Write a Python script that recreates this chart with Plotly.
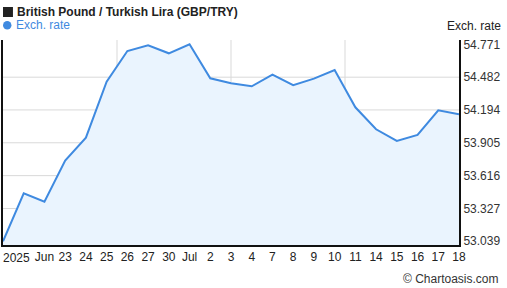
import plotly.graph_objects as go

# ---- data ----
dates = ["2025-06-18", "2025-06-19", "2025-06-20", "2025-06-23", "2025-06-24", "2025-06-25",
         "2025-06-26", "2025-06-27", "2025-06-30", "2025-07-01", "2025-07-02", "2025-07-03",
         "2025-07-04", "2025-07-07", "2025-07-08", "2025-07-09", "2025-07-10", "2025-07-11",
         "2025-07-14", "2025-07-15", "2025-07-16", "2025-07-17", "2025-07-18"]
rates = [53.039, 53.461, 53.387, 53.748, 53.950, 54.442, 54.712, 54.762, 54.692, 54.771,
         54.472, 54.428, 54.402, 54.504, 54.411, 54.469, 54.545, 54.217, 54.024, 53.921,
         53.974, 54.191, 54.156]
x_labels = ["2025", "", "Jun", "23", "24", "25", "26", "27", "30", "Jul", "2", "3", "4",
            "7", "8", "9", "10", "11", "14", "15", "16", "17", "18"]
y_ticks = [53.039, 53.327, 53.616, 53.905, 54.194, 54.482, 54.771]

title_text = "British Pound / Turkish Lira (GBP/TRY)"
series_name = "Exch. rate"

W, H = 507, 288
L, R, T, B = 1, 48, 40, 43
PW, PH = W - L - R, H - T - B

LINE = "#3f8ae0"
FILL = "#eaf4fe"
FONT = "Arial, Liberation Sans, sans-serif"


def px_x(px):
    return (px - L) / PW


def px_y(py):
    return (H - B - py) / PH


fig = go.Figure()
fig.add_trace(go.Scatter(
    x=list(range(len(dates))), y=rates, mode="lines",
    line=dict(color=LINE, width=2), fill="tozeroy", fillcolor=FILL,
    customdata=dates, hovertemplate="%{customdata}: %{y:.3f}<extra></extra>",
    showlegend=False,
))

shapes = []
# horizontal gridlines (inner ticks)
for v in y_ticks[1:-1]:
    shapes.append(dict(type="line", xref="paper", yref="y", x0=0, x1=1, y0=v, y1=v,
                       line=dict(color="#d9d9d9", width=1), layer="below"))
# vertical gridlines (quarters)
for f in (0.25, 0.5, 0.75):
    shapes.append(dict(type="line", xref="paper", yref="paper", x0=f, x1=f, y0=0, y1=1,
                       line=dict(color="#d9d9d9", width=1), layer="below"))
# title square
shapes.append(dict(type="rect", xref="paper", yref="paper",
                   x0=px_x(1), x1=px_x(11), y0=px_y(17), y1=px_y(7),
                   fillcolor="#222222", line=dict(width=0)))
# legend dot
shapes.append(dict(type="circle", xref="paper", yref="paper",
                   x0=px_x(1), x1=px_x(9.5), y0=px_y(29.5), y1=px_y(21),
                   fillcolor=LINE, line=dict(width=0)))

annotations = [
    dict(text="<b>" + title_text + "</b>", xref="paper", yref="paper",
         x=px_x(13), y=px_y(12), xanchor="left", yanchor="middle", showarrow=False,
         font=dict(size=12, color="#222222", family=FONT)),
    dict(text=series_name, xref="paper", yref="paper",
         x=px_x(12.5), y=px_y(25.5), xanchor="left", yanchor="middle", showarrow=False,
         font=dict(size=12, color=LINE, family=FONT)),
    dict(text=series_name, xref="paper", yref="paper",
         x=px_x(503), y=px_y(26), xanchor="right", yanchor="middle", showarrow=False,
         font=dict(size=12, color="#222222", family=FONT)),
    dict(text=x_labels[0], xref="paper", yref="paper",
         x=px_x(-1), y=px_y(257.5), xanchor="left", yanchor="middle", showarrow=False,
         font=dict(size=12, color="#222222", family=FONT)),
    dict(text="© Chartoasis.com", xref="paper", yref="paper",
         x=px_x(501), y=px_y(279), xanchor="right", yanchor="middle", showarrow=False,
         font=dict(size=12, color="#333333", family=FONT)),
]

fig.update_layout(
    width=W, height=H,
    margin=dict(l=L, r=R, t=T, b=B, pad=0),
    paper_bgcolor="white", plot_bgcolor="white",
    font=dict(family=FONT, size=12, color="#222222"),
    shapes=shapes, annotations=annotations,
    showlegend=False,
    xaxis=dict(
        range=[0, len(dates) - 1], tickmode="array",
        tickvals=list(range(1, len(dates))), ticktext=x_labels[1:],
        showgrid=False, zeroline=False, showline=True, linecolor="#111111", linewidth=2,
        ticks="", tickfont=dict(size=12, color="#222222"), fixedrange=True,
    ),
    yaxis=dict(
        side="right", range=[53.006, 54.809], tickmode="array",
        tickvals=y_ticks, ticktext=[f"{v:.3f}" for v in y_ticks],
        showgrid=False, zeroline=False, showline=True, mirror=True,
        linecolor="#111111", linewidth=2, ticks="",
        tickfont=dict(size=12, color="#333333"), fixedrange=True,
    ),
)

fig.write_html("out.html", config={"displayModeBar": False})
